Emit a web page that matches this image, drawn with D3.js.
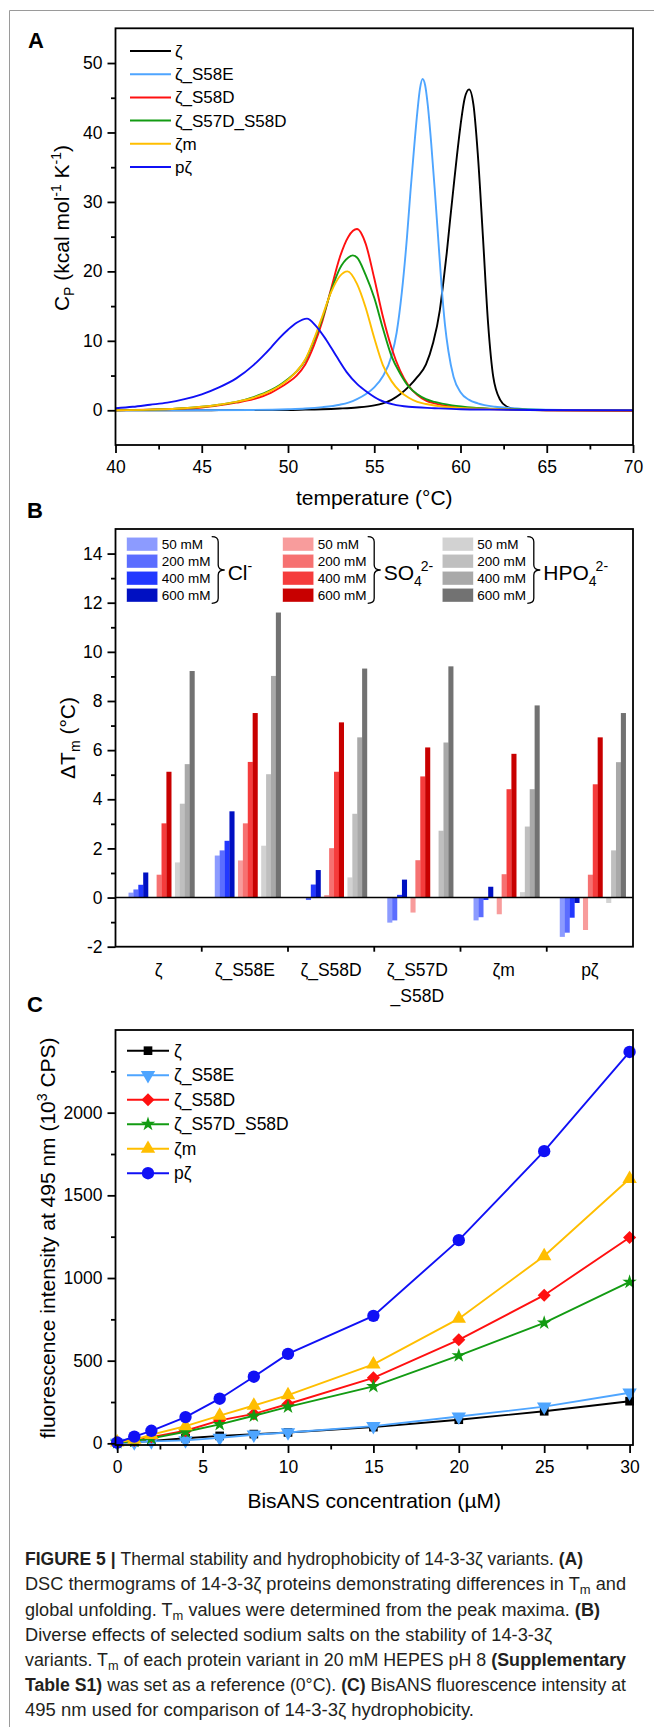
<!DOCTYPE html>
<html>
<head>
<meta charset="utf-8">
<script src="https://d3js.org/d3.v7.min.js"></script>
<style>
  body { margin: 0; background: #ffffff; }
  #container svg { display: block; }
  text { white-space: pre; }
</style>
</head>
<body>
<div id="container"></div>
<script>
/* ---------- data ---------- */

var variants = ["ζ", "ζ_S58E", "ζ_S58D", "ζ_S57D_S58D", "ζm", "pζ"];
var variantColors = ["#000000", "#4ea5ff", "#ff1010", "#139b13", "#ffbe00", "#1010f5"];

// Panel A: DSC thermograms, [temperature (°C), Cp (kcal mol-1 K-1)]
var dscZeta = [[40,0],[42,0],[44,0],[46,0.02],[48,0.05],[50,0.05],[51,0.1],[52,0.15],[53,0.25],[54,0.4],[55,0.7],[55.5,1.0],[56,1.5],[56.5,2.3],[57,3.4],[57.5,4.8],[58,6.6],[58.4,9.6],[58.8,14.4],[59,18.3],[59.2,22.6],[59.4,27.5],[59.6,32.2],[59.8,36.8],[60,41],[60.25,45],[60.5,46.2],[60.75,44],[61,37],[61.3,25],[61.6,12.5],[61.9,4.8],[62.3,1.5],[62.7,0.5],[63.2,0.15],[64,0.05],[66,0],[68,0],[70,0]];
var dscS58E = [[40,0],[44,0],[48,0.05],[50,0.15],[51,0.25],[52,0.45],[53,0.8],[53.5,1.1],[54,1.6],[54.5,2.3],[55,3.3],[55.5,4.9],[56,7.8],[56.3,11.2],[56.6,17],[56.9,25],[57.1,31.5],[57.3,37.5],[57.5,43],[57.65,46.3],[57.8,47.7],[57.95,46.8],[58.1,44],[58.3,38.5],[58.5,32],[58.7,25],[58.9,18],[59.1,12.3],[59.3,8.5],[59.6,4.8],[60,2.6],[60.5,1.5],[61,1.0],[62,0.5],[63,0.3],[64,0.15],[66,0.05],[70,0]];
var dscS58D = [[40,0],[42,0.1],[44,0.25],[45,0.4],[46,0.7],[47,1.1],[48,1.6],[49,2.5],[49.5,3.2],[50,4.0],[50.5,5.0],[51,6.6],[51.5,9.3],[52,12.9],[52.5,17.5],[53,22.0],[53.5,25.0],[54,26.1],[54.5,24.0],[55,19.0],[55.5,13.5],[56,9.0],[56.5,5.7],[57,3.5],[57.5,2.2],[58,1.4],[58.5,1.0],[59.5,0.5],[61,0.25],[63,0.1],[65,0],[70,-0.1]];
var dscS57DS58D = [[40,0],[42,0.1],[44,0.3],[45,0.5],[46,0.8],[47,1.2],[48,1.9],[49,2.9],[49.5,3.6],[50,4.5],[50.5,5.6],[51,7.2],[51.5,10.0],[52,13.3],[52.5,17.2],[53,20.4],[53.5,22.0],[53.75,22.3],[54,22.0],[54.5,19.5],[55,16.2],[55.5,11.8],[56,7.8],[56.5,5.3],[57,3.4],[57.5,2.3],[58,1.6],[58.5,1.2],[59.5,0.7],[61,0.35],[63,0.15],[65,0.05],[70,0]];
var dscZetaM = [[40,0],[42,0.1],[44,0.3],[45,0.5],[46,0.8],[47,1.2],[48,1.8],[49,2.8],[49.5,3.5],[50,4.4],[50.5,5.6],[51,7.3],[51.5,10.2],[52,13.6],[52.5,17.0],[53,19.3],[53.45,20.0],[54,18.2],[54.5,14.8],[55,10.4],[55.5,6.5],[56,4.2],[56.5,2.7],[57,1.8],[57.5,1.2],[58,0.9],[59,0.5],[60,0.35],[62,0.2],[64,0.05],[70,0]];
var dscPZeta = [[40,0.3],[41,0.5],[42,0.8],[43,1.1],[44,1.6],[45,2.3],[46,3.3],[47,4.6],[48,6.5],[48.5,7.7],[49,9.0],[49.5,10.4],[50,11.6],[50.5,12.6],[51.1,13.2],[51.6,12.2],[52.2,10.2],[52.8,7.8],[53.4,5.5],[54,3.8],[54.6,2.6],[55.3,1.5],[56.1,0.85],[57,0.5],[58.5,0.3],[60,0.15],[62,0.1],[64,0.05],[70,0]];
var dscSeries = [dscZeta, dscS58E, dscS58D, dscS57DS58D, dscZetaM, dscPZeta];

var tempTicks = [40, 45, 50, 55, 60, 65, 70];
var tempMinor = [42.5, 47.5, 52.5, 57.5, 62.5, 67.5];
var cpTicks = [0, 10, 20, 30, 40, 50];
var cpMinor = [5, 15, 25, 35, 45];

// Panel B: ΔTm (°C) per variant, for 50/200/400/600 mM of each salt
var salts = ["Cl", "SO4", "HPO4"];
var concentrations = ["50 mM", "200 mM", "400 mM", "600 mM"];
var dTmCl   = [[0.2,0.33,0.52,1.02],[1.71,1.92,2.31,3.51],[0,-0.1,0.53,1.12],[-1.02,-0.93,0.11,0.73],[-0.93,-0.8,-0.1,0.44],[-1.6,-1.43,-0.82,-0.22]];
var dTmSO4  = [[0,0.93,3.02,5.12],[1.51,3.02,5.52,7.51],[0.1,2.01,5.12,7.13],[-0.61,1.52,4.93,6.11],[-0.68,0.95,4.41,5.85],[-1.32,0.93,4.61,6.52]];
var dTmHPO4 = [[1.43,3.82,5.43,9.22],[2.11,5.02,9.02,11.6],[0.82,3.41,6.52,9.32],[0,2.72,6.31,9.41],[0.22,2.89,4.41,7.82],[-0.22,1.92,5.51,7.51]];
var clColors   = ["#8c9bff", "#5b6dff", "#2238ff", "#0010c2"];
var so4Colors  = ["#f89c9c", "#f67171", "#f53c3c", "#c80000"];
var hpo4Colors = ["#d2d2d2", "#bfbfbf", "#a9a9a9", "#727272"];
var categoryLabels = [["ζ"], ["ζ_S58E"], ["ζ_S58D"], ["ζ_S57D", "_S58D"], ["ζm"], ["pζ"]];
var dTmTicks = [-2, 0, 2, 4, 6, 8, 10, 12, 14];
var dTmMinor = [-1, 1, 3, 5, 7, 9, 11, 13];

// Panel C: BisANS fluorescence at 495 nm (10^3 CPS)
var bisansConc = [0, 1, 2, 4, 6, 8, 10, 15, 20, 25, 30];
var fluoZeta    = [3, 8, 14, 31, 45, 56, 66, 98, 143, 194, 255];
var fluoS58E    = [2, 6, 12, 18, 33, 52, 66, 104, 162, 222, 306];
var fluoS58D    = [5, 18, 38, 76, 139, 178, 238, 396, 626, 896, 1245];
var fluoS57DS58D = [4, 14, 30, 70, 115, 167, 221, 345, 531, 729, 976];
var fluoZetaM   = [6, 22, 52, 104, 168, 229, 292, 478, 754, 1133, 1600];
var fluoPZeta   = [5, 41, 76, 159, 270, 403, 541, 771, 1229, 1767, 2367];
var fluoSeries = [fluoZeta, fluoS58E, fluoS58D, fluoS57DS58D, fluoZetaM, fluoPZeta];
var concTicks = [0, 5, 10, 15, 20, 25, 30];
var concMinor = [2.5, 7.5, 12.5, 17.5, 22.5, 27.5];
var fluoTicks = [0, 500, 1000, 1500, 2000];
var fluoMinor = [250, 750, 1250, 1750, 2250];

/* ---------- setup ---------- */

var font = '"Liberation Sans", Arial, Helvetica, sans-serif';
var W = 654, H = 1727;
var plotL = 115.5, plotR = 633;
var frameW = 1.8;

var svg = d3.select("#container").append("svg")
  .attr("width", W).attr("height", H)
  .attr("font-family", font);

// figure border (top + left, the rest is cropped)
svg.append("path")
  .attr("d", "M9.5," + H + "V10.5H" + W)
  .attr("fill", "none").attr("stroke", "#9a9a9a").attr("stroke-width", 1);

function fmt(d) { return String(d); }

function axis(g, scale, isX, pos, major, minor) {
  var gen = isX ? d3.axisBottom : d3.axisLeft;
  var a = g.append("g")
    .attr("transform", isX ? "translate(0," + pos + ")" : "translate(" + pos + ",0)")
    .call(gen(scale).tickValues(major).tickSize(8).tickPadding(isX ? 7.5 : 5).tickSizeOuter(0).tickFormat(fmt));
  a.attr("font-size", 17.5).attr("font-family", font);
  a.select(".domain").remove();
  a.selectAll("line").attr("stroke-width", frameW);
  a.selectAll("text").attr("fill", "#000");
  var m = g.append("g")
    .attr("transform", isX ? "translate(0," + pos + ")" : "translate(" + pos + ",0)")
    .call(gen(scale).tickValues(minor).tickSize(4.5).tickSizeOuter(0).tickFormat(function() { return ""; }));
  m.select(".domain").remove();
  m.selectAll("line").attr("stroke-width", frameW);
}

function frame(g, t, b) {
  g.append("rect")
    .attr("x", plotL).attr("y", t)
    .attr("width", plotR - plotL).attr("height", b - t)
    .attr("fill", "none").attr("stroke", "#000").attr("stroke-width", frameW);
}

function panelLetter(txt, x, y) {
  svg.append("text").attr("x", x).attr("y", y)
    .attr("font-size", 22).attr("font-weight", "bold").text(txt);
}

function rotatedTitle(x, y, parts) {
  var t = svg.append("text")
    .attr("transform", "translate(" + x + "," + y + ") rotate(-90)")
    .attr("text-anchor", "middle").attr("font-size", 21);
  parts.forEach(function(p) {
    var s = t.append("tspan").text(p.t);
    if (p.sub) s.attr("font-size", 14).attr("dy", 5);
    if (p.sup) s.attr("font-size", 14).attr("dy", -8);
    if (p.back) s.attr("dy", p.back);
  });
  return t;
}

/* ---------- Panel A ---------- */

var aTop = 28.3, aBot = 445;
var xA = d3.scaleLinear().domain([40, 70]).range([plotL, plotR]);
var yA = d3.scaleLinear().domain([-5, 55]).range([aBot, aTop]);

var gA = svg.append("g");
gA.append("clipPath").attr("id", "clipA").append("rect")
  .attr("x", plotL).attr("y", aTop).attr("width", plotR - plotL).attr("height", aBot - aTop);

var lineA = d3.line()
  .x(function(d) { return xA(d[0]); })
  .y(function(d) { return yA(d[1]); })
  .curve(d3.curveMonotoneX);

gA.append("g").attr("clip-path", "url(#clipA)")
  .selectAll("path").data(dscSeries).join("path")
  .attr("d", lineA)
  .attr("fill", "none")
  .attr("stroke", function(d, i) { return variantColors[i]; })
  .attr("stroke-width", 1.9);

axis(gA, xA, true, aBot, tempTicks, tempMinor);
axis(gA, yA, false, plotL, cpTicks, cpMinor);
frame(gA, aTop, aBot);

// legend A
var legA = gA.append("g");
variants.forEach(function(v, i) {
  var y = 51 + i * 23.2;
  legA.append("line").attr("x1", 130).attr("x2", 171).attr("y1", y).attr("y2", y)
    .attr("stroke", variantColors[i]).attr("stroke-width", 2);
  legA.append("text").attr("x", 175).attr("y", y + 6).attr("font-size", 17).text(v);
});

svg.append("text").attr("x", (plotL + plotR) / 2).attr("y", 505)
  .attr("text-anchor", "middle").attr("font-size", 21).text("temperature (°C)");
rotatedTitle(69, 228, [{t: "C"}, {t: "P", sub: 1}, {t: " (kcal mol", back: -5}, {t: "-1", sup: 1},
  {t: " K", back: 8}, {t: "-1", sup: 1}, {t: ")", back: 8}]);
panelLetter("A", 28, 48);

/* ---------- Panel B ---------- */

var bTop = 529, bBot = 946.7;
var xB = d3.scaleBand().domain(variants).range([plotL, plotR]);
var bw = xB.bandwidth();
var xSalt = d3.scaleBand().domain(salts).range([bw * 0.151, bw * 0.916]).paddingInner(0.157);
var xConc = d3.scaleBand().domain(concentrations).range([0, xSalt.bandwidth()]);
var yB = d3.scaleLinear().domain([-2, 15]).range([bBot, bTop]);

var saltData = { Cl: dTmCl, SO4: dTmSO4, HPO4: dTmHPO4 };
var saltColors = { Cl: clColors, SO4: so4Colors, HPO4: hpo4Colors };
var bars = [];
variants.forEach(function(v, i) {
  salts.forEach(function(s) {
    concentrations.forEach(function(c, k) {
      bars.push({ variant: v, salt: s, conc: c, value: saltData[s][i][k], color: saltColors[s][k] });
    });
  });
});

var gB = svg.append("g");
gB.selectAll("rect.bar").data(bars).join("rect")
  .attr("class", "bar")
  .attr("x", function(d) { return xB(d.variant) + xSalt(d.salt) + xConc(d.conc); })
  .attr("width", xConc.bandwidth() + 0.2)
  .attr("y", function(d) { return yB(Math.max(0, d.value)); })
  .attr("height", function(d) { return Math.abs(yB(d.value) - yB(0)); })
  .attr("fill", function(d) { return d.color; });

gB.append("line")
  .attr("x1", plotL).attr("x2", plotR).attr("y1", yB(0)).attr("y2", yB(0))
  .attr("stroke", "#000").attr("stroke-width", 1.5);

axis(gB, yB, false, plotL, dTmTicks, dTmMinor);
// group separators on the category axis
gB.selectAll("line.sep").data(variants.slice(1)).join("line")
  .attr("class", "sep")
  .attr("x1", function(d) { return xB(d); }).attr("x2", function(d) { return xB(d); })
  .attr("y1", bBot).attr("y2", bBot + 5)
  .attr("stroke", "#000").attr("stroke-width", frameW);
frame(gB, bTop, bBot);

categoryLabels.forEach(function(lines, i) {
  var t = gB.append("text")
    .attr("x", xB(variants[i]) + bw / 2).attr("y", 975.5)
    .attr("text-anchor", "middle").attr("font-size", 17.5);
  lines.forEach(function(l, j) {
    t.append("tspan").attr("x", xB(variants[i]) + bw / 2).attr("dy", j ? 26.7 : 0).text(l);
  });
});

// legend B
var legB = gB.append("g");
var legBx = [126.7, 282.7, 442.3];
salts.forEach(function(s, j) {
  var x0 = legBx[j];
  concentrations.forEach(function(c, k) {
    var top = 537.3 + k * 17;
    legB.append("rect").attr("x", x0).attr("y", top).attr("width", 31).attr("height", 13.7)
      .attr("fill", saltColors[s][k]).attr("stroke", "#ffffff").attr("stroke-opacity", 0.6).attr("stroke-width", 0.6);
    legB.append("text").attr("x", x0 + 35).attr("y", top + 11.7).attr("font-size", 13.5).text(c);
  });
  // curly brace
  var bx = x0 + 85, y0 = 536.7, y1 = 603.3, mid = (y0 + y1) / 2, w = 13, r = 5;
  legB.append("path")
    .attr("d", "M" + bx + "," + y0 +
      "Q" + (bx + w / 2) + "," + y0 + " " + (bx + w / 2) + "," + (y0 + r) +
      "L" + (bx + w / 2) + "," + (mid - r) +
      "Q" + (bx + w / 2) + "," + mid + " " + (bx + w) + "," + mid +
      "Q" + (bx + w / 2) + "," + mid + " " + (bx + w / 2) + "," + (mid + r) +
      "L" + (bx + w / 2) + "," + (y1 - r) +
      "Q" + (bx + w / 2) + "," + y1 + " " + bx + "," + y1)
    .attr("fill", "none").attr("stroke", "#000").attr("stroke-width", 1.3);
  var ion = legB.append("text").attr("x", bx + 16).attr("y", 579.5).attr("font-size", 21);
  if (s === "Cl") {
    ion.append("tspan").text("Cl");
    ion.append("tspan").attr("font-size", 14).attr("dy", -9).text("-");
  } else {
    ion.append("tspan").text(s === "SO4" ? "SO" : "HPO");
    ion.append("tspan").attr("font-size", 14).attr("dy", 6).text("4");
    ion.append("tspan").attr("font-size", 14).attr("dy", -15).attr("dx", -1).text("2-");
  }
});

rotatedTitle(75, 738, [{t: "ΔT"}, {t: "m", sub: 1}, {t: " (°C)", back: -5}]);
panelLetter("B", 27, 518);

/* ---------- Panel C ---------- */

var cTop = 1030, cBot = 1445;
var xC = d3.scaleLinear().domain([-0.1, 30.2]).range([plotL, plotR]);
var yC = d3.scaleLinear().domain([-10, 2500]).range([cBot, cTop]);

var markerTypes = [d3.symbolSquare, d3.symbolTriangle, d3.symbolSquare, d3.symbolStar, d3.symbolTriangle, d3.symbolCircle];
var markerRotate = [0, 180, 45, 0, 0, 0];
var markerSizes = [75, 90, 85, 65, 90, 120];

var gC = svg.append("g");
var lineC = d3.line()
  .x(function(d, k) { return xC(bisansConc[k]); })
  .y(function(d) { return yC(d); });

fluoSeries.forEach(function(series, i) {
  var s = gC.append("g");
  s.append("path").attr("d", lineC(series))
    .attr("fill", "none").attr("stroke", variantColors[i]).attr("stroke-width", 1.9);
  s.selectAll("path.pt").data(series).join("path")
    .attr("class", "pt")
    .attr("transform", function(d, k) {
      return "translate(" + xC(bisansConc[k]) + "," + yC(d) + ") rotate(" + markerRotate[i] + ")";
    })
    .attr("d", d3.symbol().type(markerTypes[i]).size(markerSizes[i]))
    .attr("fill", variantColors[i]);
});

axis(gC, xC, true, cBot, concTicks, concMinor);
axis(gC, yC, false, plotL, fluoTicks, fluoMinor);
frame(gC, cTop, cBot);

// legend C
var legC = gC.append("g");
variants.forEach(function(v, i) {
  var y = 1050.7 + i * 24.5;
  legC.append("line").attr("x1", 127).attr("x2", 169).attr("y1", y).attr("y2", y)
    .attr("stroke", variantColors[i]).attr("stroke-width", 1.9);
  legC.append("path")
    .attr("transform", "translate(148," + y + ") rotate(" + markerRotate[i] + ")")
    .attr("d", d3.symbol().type(markerTypes[i]).size(markerSizes[i]))
    .attr("fill", variantColors[i]);
  legC.append("text").attr("x", 174).attr("y", y + 6).attr("font-size", 17.5).text(v);
});

svg.append("text").attr("x", (plotL + plotR) / 2).attr("y", 1508)
  .attr("text-anchor", "middle").attr("font-size", 21).text("BisANS concentration (µM)");
rotatedTitle(55, 1238, [{t: "fluorescence intensity at 495 nm (10"}, {t: "3", sup: 1}, {t: " CPS)", back: 8}]);
panelLetter("C", 27, 1012);

/* ---------- caption ---------- */

var captionLines = [
  [{t: "FIGURE 5 | ", b: 1}, {t: "Thermal stability and hydrophobicity of 14-3-3ζ variants. "}, {t: "(A)", b: 1}],
  [{t: "DSC thermograms of 14-3-3ζ proteins demonstrating differences in T"}, {t: "m", sub: 1}, {t: " and", up: 1}],
  [{t: "global unfolding. T"}, {t: "m", sub: 1}, {t: " values were determined from the peak maxima. ", up: 1}, {t: "(B)", b: 1}],
  [{t: "Diverse effects of selected sodium salts on the stability of 14-3-3ζ"}],
  [{t: "variants. T"}, {t: "m", sub: 1}, {t: " of each protein variant in 20 mM HEPES pH 8 ", up: 1}, {t: "(Supplementary", b: 1}],
  [{t: "Table S1)", b: 1}, {t: " was set as a reference (0°C). "}, {t: "(C)", b: 1}, {t: " BisANS fluorescence intensity at"}],
  [{t: "495 nm used for comparison of 14-3-3ζ hydrophobicity."}]
];
var captionWidths = [558, 601, 575, 527, 601, 601, 449];

var cap = svg.append("g").attr("fill", "#231f20");
captionLines.forEach(function(parts, i) {
  var t = cap.append("text")
    .attr("x", 25).attr("y", 1565.3 + i * 25.15)
    .attr("font-size", 17.5)
    .attr("textLength", captionWidths[i]).attr("lengthAdjust", "spacingAndGlyphs");
  parts.forEach(function(p) {
    var s = t.append("tspan").text(p.t);
    if (p.b) s.attr("font-weight", "bold");
    if (p.sub) s.attr("font-size", 12.5).attr("dy", 4);
    if (p.up) s.attr("dy", -4);
  });
});
</script>
</body>
</html>
